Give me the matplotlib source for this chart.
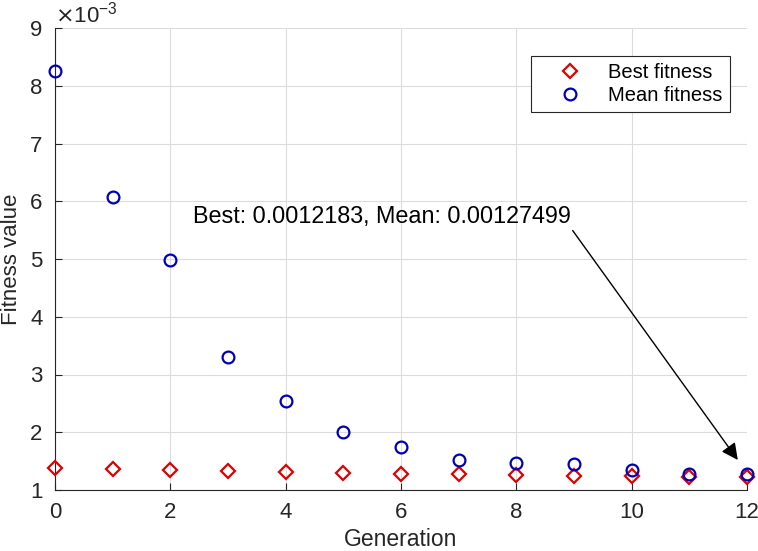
import numpy as np
import matplotlib.pyplot as plt
from matplotlib.ticker import FuncFormatter

plt.rcParams['font.family'] = ['Liberation Sans', 'DejaVu Sans']

generations = list(range(13))
best_fitness = [1.38, 1.36, 1.34, 1.33, 1.31, 1.29, 1.28, 1.28, 1.26, 1.25, 1.245, 1.23, 1.2183]
mean_fitness = [8.25, 6.07, 4.98, 3.31, 2.54, 2.00, 1.74, 1.52, 1.47, 1.45, 1.34, 1.28, 1.27499]
scale = 1e-3
best_fitness = np.array(best_fitness) * scale
mean_fitness = np.array(mean_fitness) * scale

fig = plt.figure(figsize=(7.58, 5.51), dpi=100)
ax = fig.add_axes([55 / 758, 1 - 490 / 551, (747 - 55) / 758, (490 - 28) / 551])

ax.plot(generations, best_fitness, linestyle='none', marker='D', markersize=7.5,
        markerfacecolor='none', markeredgecolor='#e00000', markeredgewidth=1.6,
        label='Best fitness', clip_on=False, zorder=3)
ax.plot(generations, mean_fitness, linestyle='none', marker='o', markersize=8.5,
        markerfacecolor='none', markeredgecolor='#0000b4', markeredgewidth=1.6,
        label='Mean fitness', clip_on=False, zorder=3)

ax.set_xlim(0, 12)
ax.set_ylim(1e-3, 9e-3)
ax.set_xticks(range(0, 13, 2))
ax.set_yticks(np.arange(1, 10) * scale)
ax.yaxis.set_major_formatter(FuncFormatter(lambda v, p: f'{v / scale:.0f}'))
ax.tick_params(direction='in', length=5, labelsize=16, colors='#262626', width=0.8)
ax.tick_params(axis='x', pad=9)
ax.tick_params(axis='y', pad=9)
ax.grid(True, color='#dcdcdc', linewidth=0.8)
ax.set_axisbelow(True)
for s in ['top', 'right']:
    ax.spines[s].set_visible(False)
for s in ['left', 'bottom']:
    ax.spines[s].set_color('#262626')

ax.text(0.0, 1.0, r'$\times\mathregular{10^{-3}}$', transform=ax.transAxes,
        fontsize=16, color='#262626', ha='left', va='bottom')

ax.set_xlabel('Generation', fontsize=16.5, color='#262626', labelpad=3)
ax.set_ylabel('Fitness value', fontsize=16, color='#262626', labelpad=6)

leg = ax.legend(loc='upper right', bbox_to_anchor=(0.975, 0.939), fontsize=14.5,
                fancybox=False, framealpha=1, edgecolor='#262626',
                handletextpad=0.3, borderpad=0.35, labelspacing=0.2,
                handlelength=3.2, borderaxespad=0)
leg.get_frame().set_linewidth(0.8)

ax.annotate(f'Best: {best_fitness[-1]:.7f}, Mean: {mean_fitness[-1]:.8f}',
            xy=(11.84, 1.52e-3), xytext=(2.39, 5.74e-3), fontsize=16.8,
            color='#000000', ha='left', va='center',
            arrowprops=dict(arrowstyle='-|>', color='black', lw=1.0,
                            mutation_scale=25, shrinkA=0, shrinkB=0,
                            relpos=(1.0, 0.0)))

fig.savefig('out.png', dpi=100)
